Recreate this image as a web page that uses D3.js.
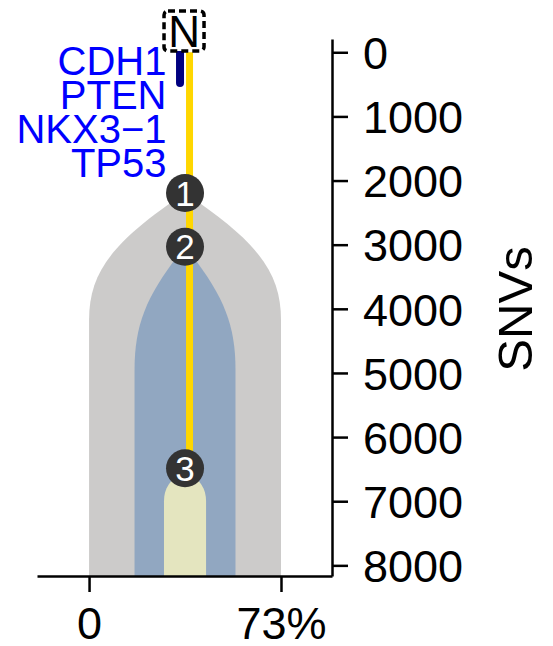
<!DOCTYPE html>
<html>
<head>
<meta charset="utf-8">
<script src="https://cdn.jsdelivr.net/npm/d3@7"></script>
<style>
  html, body { margin: 0; padding: 0; background: #ffffff; }
  svg { display: block; }
  text { font-family: "Liberation Sans", Arial, Helvetica, sans-serif; }
</style>
</head>
<body>
<svg id="chart" width="553" height="646"></svg>
<script>
// ---------------- data ----------------
const cloneIds = ["1", "2", "3"];
const cloneSNVs = [2194, 3032, 6487];        // SNVs at which each clone emerges
const cloneFraction = [73, 38.4, 16];        // clone width (% of cells)
const cloneFullSNVs = [4175, 4954, 7000];    // SNVs where clone reaches full width
const trunkSNVs = [0, 6487];                 // trunk line (normal -> clone 3)
const driverSNVs = [0, 480];                 // driver bar extent
const driverGenes = ["CDH1", "PTEN", "NKX3\u22121", "TP53"];
const rootLabel = "N";
const yTicks = [0, 1000, 2000, 3000, 4000, 5000, 6000, 7000, 8000];
const xTicks = [0, 73];
const xTickLabels = ["0", "73%"];
const yLabel = "SNVs";

// ---------------- style ----------------
const cloneColors = ["#CCCBCA", "#91A7C1", "#E4E5BF"];
const trunkColor = "#FFD700";
const driverColor = "#000080";
const nodeColor = "#333333";
const geneColor = "#0000FF";

const svg = d3.select("#chart");

const x = d3.scaleLinear().domain([-19.8, 92.4]).range([37, 332]);
const y = d3.scaleLinear().domain([-207, 8166]).range([39, 576]);
const yBottom = y.range()[1];
const cx = x(d3.max(cloneFraction) / 2);

// ---------------- clones ----------------
function clonePath(i) {
  const y0 = y(cloneSNVs[i]);
  const y1 = y(cloneFullSNVs[i]);
  const L = y1 - y0;
  const h = (x(cloneFraction[i]) - x(0)) / 2;
  const p = d3.path();
  p.moveTo(cx, y0);
  p.bezierCurveTo(cx - 0.75 * h, y0 + 0.38 * L, cx - h, y0 + 0.62 * L, cx - h, y1);
  p.lineTo(cx - h, yBottom);
  p.lineTo(cx + h, yBottom);
  p.lineTo(cx + h, y1);
  p.bezierCurveTo(cx + h, y0 + 0.62 * L, cx + 0.75 * h, y0 + 0.38 * L, cx, y0);
  p.closePath();
  return p.toString();
}

svg.append("g").selectAll("path")
  .data(cloneIds)
  .join("path")
  .attr("d", (d, i) => clonePath(i))
  .attr("fill", (d, i) => cloneColors[i]);

// trunk line
svg.append("line")
  .attr("x1", cx + 4.5).attr("x2", cx + 4.5)
  .attr("y1", y(trunkSNVs[0])).attr("y2", y(trunkSNVs[1]))
  .attr("stroke", trunkColor).attr("stroke-width", 7);

// driver bar
svg.append("line")
  .attr("x1", cx - 5).attr("x2", cx - 5)
  .attr("y1", y(driverSNVs[0])).attr("y2", y(driverSNVs[1]))
  .attr("stroke", driverColor).attr("stroke-width", 8)
  .attr("stroke-linecap", "round");

// nodes
const nodes = svg.append("g").selectAll("g")
  .data(cloneIds)
  .join("g")
  .attr("transform", (d, i) => `translate(${cx},${y(cloneSNVs[i])})`);
nodes.append("circle").attr("r", 19).attr("fill", nodeColor);
nodes.append("text")
  .attr("text-anchor", "middle")
  .attr("dy", "0.36em")
  .attr("font-size", 35)
  .attr("fill", "#ffffff")
  .text(d => d);

// root box
svg.append("rect")
  .attr("x", cx - 21).attr("y", 11)
  .attr("width", 40).attr("height", 40)
  .attr("rx", 4)
  .attr("fill", "#ffffff")
  .attr("stroke", "#000000")
  .attr("stroke-width", 3.5)
  .attr("stroke-dasharray", "7,4");
svg.append("text")
  .attr("x", cx - 1).attr("y", 46.5)
  .attr("text-anchor", "middle")
  .attr("font-size", 44)
  .attr("fill", "#000000")
  .text(rootLabel);

// driver genes
svg.append("g").selectAll("text")
  .data(driverGenes)
  .join("text")
  .attr("x", 166.5)
  .attr("y", (d, i) => 75 + i * 34)
  .attr("text-anchor", "end")
  .attr("font-size", 40)
  .attr("fill", geneColor)
  .text(d => d);

// ---------------- axes ----------------
const yAxis = d3.axisRight(y)
  .tickValues(yTicks)
  .tickFormat(d3.format("d"))
  .tickSize(16)
  .tickPadding(15)
  .tickSizeOuter(0);
const gy = svg.append("g").attr("transform", "translate(332,0)").call(yAxis);
gy.selectAll("text").attr("font-size", 45).attr("dy", "0.36em").attr("fill", "#000");

const xAxis = d3.axisBottom(x)
  .tickValues(xTicks)
  .tickFormat((d, i) => xTickLabels[i])
  .tickSize(16)
  .tickPadding(15)
  .tickSizeOuter(0);
const gx = svg.append("g").attr("transform", "translate(0,576)").call(xAxis);
gx.selectAll("text").attr("font-size", 45).attr("fill", "#000");

svg.selectAll(".domain, .tick line")
  .attr("stroke", "#000")
  .attr("stroke-width", 2.5);
svg.selectAll(".tick text").attr("font-family", "'Liberation Sans', Arial, sans-serif");

svg.append("text")
  .attr("transform", "translate(532,309) rotate(-90)")
  .attr("text-anchor", "middle")
  .attr("font-size", 49)
  .attr("fill", "#000")
  .text(yLabel);
</script>
</body>
</html>
